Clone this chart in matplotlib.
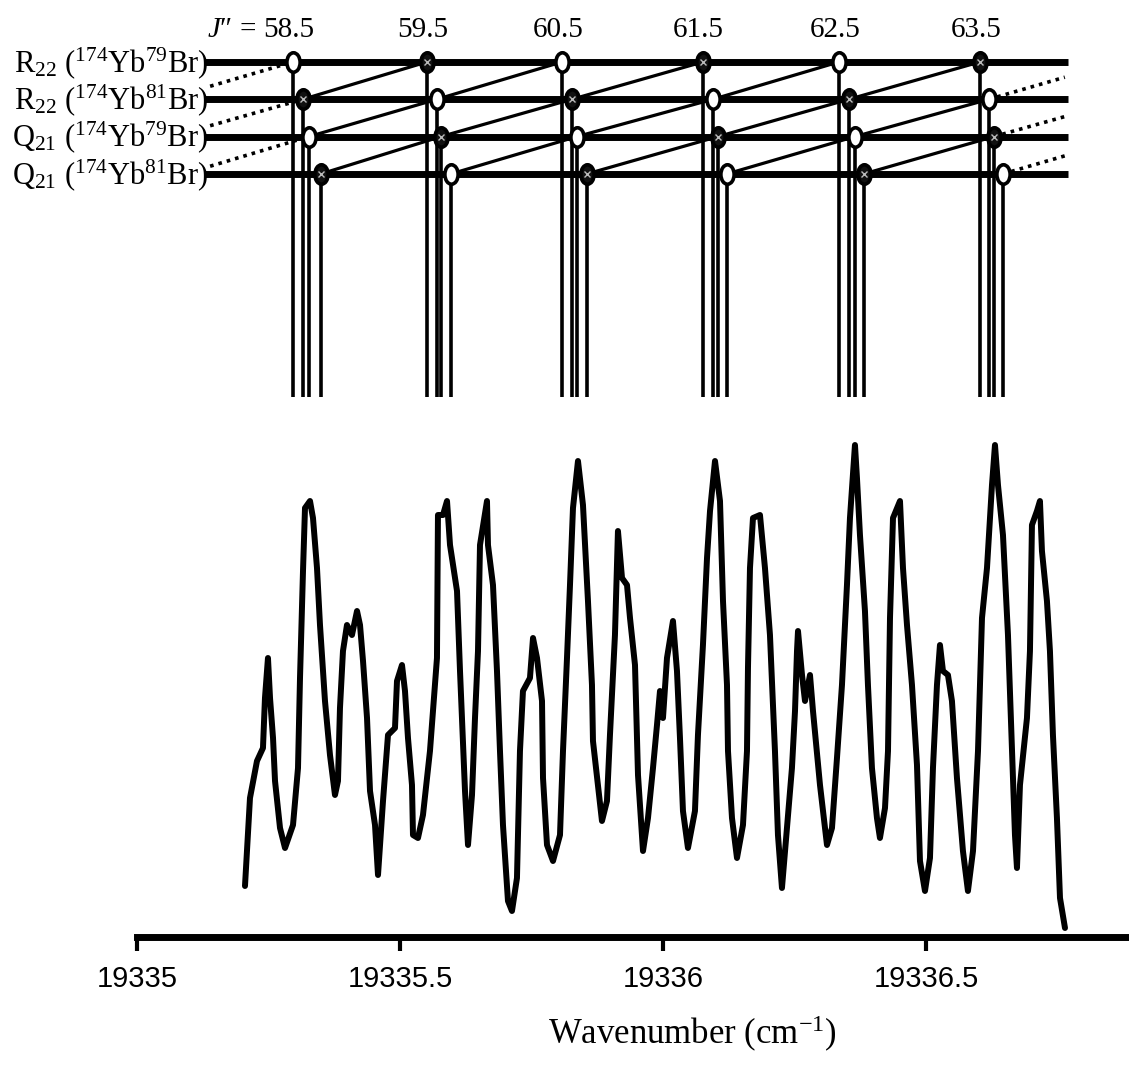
import numpy as np
import matplotlib
matplotlib.use("Agg")
import matplotlib.pyplot as plt
from matplotlib.path import Path

plt.rcParams['font.family'] = 'Liberation Serif'
plt.rcParams['mathtext.fontset'] = 'custom'
plt.rcParams['mathtext.rm'] = 'Liberation Serif'
plt.rcParams['mathtext.it'] = 'Liberation Serif:italic'

# base wavenumber (cm-1); spectrum given as offset from it
nu0 = 19335.0

spec_dnu = [
    0.2053, 0.2148, 0.2281, 0.2395, 0.2433, 0.2490, 0.2529, 0.2586, 0.2624, 0.2719,
    0.2814, 0.2966, 0.3061, 0.3099, 0.3156, 0.3194, 0.3289, 0.3346, 0.3422, 0.3479,
    0.3574, 0.3669, 0.3764, 0.3821, 0.3859, 0.3916, 0.3992, 0.4087, 0.4183, 0.4240,
    0.4297, 0.4373, 0.4430, 0.4525, 0.4582, 0.4677, 0.4772, 0.4905, 0.4943, 0.5038,
    0.5095, 0.5152, 0.5228, 0.5247, 0.5342, 0.5437, 0.5570, 0.5703, 0.5722, 0.5817,
    0.5894, 0.5951, 0.6084, 0.6141, 0.6236, 0.6293, 0.6369, 0.6426, 0.6483, 0.6521,
    0.6654, 0.6673, 0.6768, 0.6844, 0.6901, 0.6958, 0.7053, 0.7129, 0.7224, 0.7281,
    0.7338, 0.7471, 0.7529, 0.7605, 0.7700, 0.7719, 0.7795, 0.7909, 0.8042, 0.8099,
    0.8175, 0.8232, 0.8289, 0.8384, 0.8479, 0.8574, 0.8650, 0.8669, 0.8764, 0.8840,
    0.8935, 0.8992, 0.9087, 0.9144, 0.9221, 0.9316, 0.9373, 0.9468, 0.9487, 0.9525,
    0.9620, 0.9715, 0.9810, 0.9886, 0.9943, 1.0000, 1.0076, 1.0190, 1.0266, 1.0323,
    1.0380, 1.0475, 1.0608, 1.0665, 1.0760, 1.0837, 1.0894, 1.0989, 1.1084, 1.1141,
    1.1217, 1.1236, 1.1312, 1.1407, 1.1521, 1.1597, 1.1616, 1.1654, 1.1711, 1.1844,
    1.1939, 1.2034, 1.2129, 1.2186, 1.2262, 1.2357, 1.2452, 1.2510, 1.2548, 1.2567,
    1.2643, 1.2700, 1.2795, 1.2852, 1.2985, 1.3118, 1.3213, 1.3308, 1.3403, 1.3498,
    1.3555, 1.3650, 1.3688, 1.3745, 1.3840, 1.3897, 1.3973, 1.4068, 1.4125, 1.4221,
    1.4278, 1.4316, 1.4373, 1.4506, 1.4563, 1.4639, 1.4734, 1.4829, 1.4886, 1.4981,
    1.5076, 1.5133, 1.5209, 1.5266, 1.5323, 1.5418, 1.5494, 1.5589, 1.5703, 1.5798,
    1.5894, 1.5989, 1.6065, 1.6160, 1.6255, 1.6312, 1.6369, 1.6464, 1.6559, 1.6635,
    1.6692, 1.6730, 1.6787, 1.6920, 1.6977, 1.7015, 1.7110, 1.7167, 1.7205, 1.7300,
    1.7357, 1.7414, 1.7490, 1.7548, 1.7643,
]
spec_int = [
    47, 135, 172, 185, 235, 275, 235, 195, 152, 105,
    85, 108, 165, 255, 362, 425, 432, 415, 365, 308,
    232, 178, 138, 152, 225, 282, 308, 298, 322, 308,
    272, 215, 142, 108, 58, 132, 198, 205, 252, 268,
    242, 195, 148, 98, 95, 118, 182, 275, 418, 418,
    432, 388, 342, 262, 142, 88, 138, 215, 282, 388,
    432, 388, 348, 262, 182, 108, 32, 22, 55, 182,
    242, 255, 295, 275, 232, 155, 88, 72, 98, 182,
    275, 348, 425, 472, 428, 332, 248, 192, 148, 112,
    132, 198, 298, 402, 355, 348, 315, 268, 232, 158,
    82, 115, 165, 208, 242, 215, 275, 312, 262, 195,
    122, 85, 122, 198, 288, 375, 422, 472, 432, 332,
    248, 182, 115, 75, 108, 182, 265, 365, 415, 418,
    365, 298, 182, 98, 45, 105, 165, 222, 282, 302,
    258, 232, 258, 222, 148, 88, 105, 175, 248, 348,
    415, 488, 455, 398, 322, 248, 165, 115, 95, 125,
    182, 315, 415, 432, 365, 308, 248, 168, 72, 42,
    75, 165, 248, 288, 262, 258, 232, 155, 82, 42,
    82, 182, 315, 365, 448, 488, 448, 398, 298, 182,
    98, 65, 148, 215, 282, 408, 422, 432, 382, 332,
    282, 198, 115, 35, 5,
]

# line assignment ladder: J'' values and line positions (offset from nu0)
j_values = ['58.5', '59.5', '60.5', '61.5', '62.5', '63.5']
branch_labels = [
    r'R$_{22}$ ($^{174}$Yb$^{79}$Br)',
    r'R$_{22}$ ($^{174}$Yb$^{81}$Br)',
    r'Q$_{21}$ ($^{174}$Yb$^{79}$Br)',
    r'Q$_{21}$ ($^{174}$Yb$^{81}$Br)',
]
line_pos = [
    [0.2966, 0.5513, 0.8080, 1.0760, 1.3346, 1.6027],
    [0.3156, 0.5703, 0.8270, 1.0951, 1.3536, 1.6198],
    [0.3270, 0.5779, 0.8365, 1.1046, 1.3650, 1.6293],
    [0.3498, 0.5970, 0.8555, 1.1217, 1.3821, 1.6464],
]
first_hatched = [False, True, False, True]

tick_values = [19335, 19335.5, 19336, 19336.5]
tick_labels = ['19335', '19335.5', '19336', '19336.5']

fig = plt.figure(figsize=(11.29, 10.68), dpi=100)

# ---- spectrum ----
ax = fig.add_axes([137 / 1129, 131 / 1068, 992 / 1129, 499 / 1068])
ax.plot(nu0 + np.array(spec_dnu), spec_int, color='black', lw=4.3,
        solid_joinstyle='round', solid_capstyle='round', clip_on=False)
ax.set_xlim(nu0, 19336.886)
ax.set_ylim(-4, 495)
for s in ['top', 'right', 'left']:
    ax.spines[s].set_visible(False)
ax.spines['bottom'].set_linewidth(5)
ax.set_yticks([])
ax.set_xticks(tick_values)
ax.set_xticklabels(tick_labels, fontfamily='Liberation Sans', fontsize=21)
ax.tick_params(axis='x', direction='out', length=10, width=3, pad=10)
ax.set_xlabel('Wavenumber (cm$^{-1}$)', fontsize=25)
ax.xaxis.set_label_coords(0.56, -0.155)

# ---- ladder ----
lad = fig.add_axes([137 / 1129, 668 / 1068, 992 / 1129, 400 / 1068], sharex=ax)
lad.axis('off')
lad.set_ylim(9.06, -1.66)

rows = np.arange(len(line_pos))
pos = [nu0 + np.array(p) for p in line_pos]
x_left, x_right = nu0 + 0.139, nu0 + 1.764

lad.hlines(rows, nu0 + 0.129, nu0 + 1.770, color='black', lw=5, zorder=1)

for r in rows:
    lad.vlines(pos[r], r, 8.98, color='black', lw=2.6, zorder=1)

# diagonals J -> J+1 between neighbouring branches
for r in rows[:-1]:
    for j in range(len(j_values) - 1):
        lad.plot([pos[r + 1][j], pos[r][j + 1]], [r + 1, r], color='black',
                 lw=2.3, zorder=2)
    # dotted continuation at both ends
    sp_lo = np.mean(np.diff(pos[r + 1]))
    sp_hi = np.mean(np.diff(pos[r]))
    xa, ya = pos[r + 1][0] - sp_lo, r + 1
    xb, yb = pos[r][0], r
    yl = ya + (yb - ya) * (x_left - xa) / (xb - xa)
    lad.plot([x_left, xb], [yl, yb], color='black', lw=2.6,
             linestyle=(0, (1, 1.4)), zorder=2)
    xa, ya = pos[r + 1][-1], r + 1
    xb, yb = pos[r][-1] + sp_hi, r
    yr = ya + (yb - ya) * (x_right - xa) / (xb - xa)
    lad.plot([xa, x_right], [ya, yr], color='black', lw=2.6,
             linestyle=(0, (1, 1.4)), zorder=2)

circ = Path.unit_circle()
ell = Path(circ.vertices * [0.68, 1.0], circ.codes)
for r in rows:
    for j, x in enumerate(pos[r]):
        hatched = (j % 2 == 0) == first_hatched[r]
        fc = '#111111' if hatched else 'white'
        lad.plot([x], [r], marker=ell, ms=14, mfc=fc, mec='black', mew=2.6,
                 zorder=3, clip_on=False)
        if hatched:
            lad.plot([x], [r], marker='x', ms=4, mec='#bbbbbb', mew=1.0,
                     zorder=4)

for r in rows:
    lad.text(nu0 + 0.135, r + 0.27, branch_labels[r], ha='right',
             va='baseline', fontsize=22)

for j, jv in enumerate(j_values):
    t = lad.text(pos[0][j] - 0.008, -0.67, jv, ha='center', va='baseline',
                 fontsize=21)
    if j == 0:
        lad.annotate('$J$\u2033 =', xy=(0, 0), xycoords=t, xytext=(-5, 0),
                     textcoords='offset points', ha='right', va='bottom',
                     fontsize=21)

fig.savefig('out.png', dpi=100)
